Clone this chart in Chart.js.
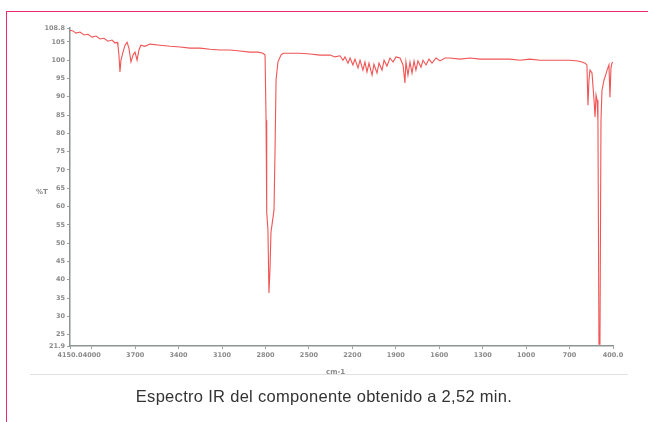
<!DOCTYPE html>
<html>
<head>
<meta charset="utf-8">
<script src="https://cdn.jsdelivr.net/npm/chart.js@4.4.1/dist/chart.umd.min.js"></script>
<style>
  html, body { margin: 0; padding: 0; background: #fff; }
  #wrap { position: relative; width: 648px; height: 422px; overflow: hidden; }
  #frame { position: absolute; left: 6px; top: 11px; width: 650px; height: 420px;
           border-top: 1.5px solid #ec2a72; border-left: 1.5px solid #ec2a72; }
  #scan { position: absolute; left: 30px; top: 22px; width: 598px; height: 352px;
          border-bottom: 1px solid #e2e2e2; }
  #chart { position: absolute; left: 0; top: 0; }
  .lbl { position: absolute; font-family: "DejaVu Sans", sans-serif; font-size: 7px;
         font-weight: bold; color: #8a8a8a; }
  #caption { position: absolute; left: 0; width: 648px; top: 387px; text-align: center;
             font-family: "Liberation Sans", Arial, sans-serif; font-size: 16.5px;
             letter-spacing: 0.3px; color: #333; }
</style>
</head>
<body>
<div id="wrap">
  <div id="frame"></div>
  <div id="scan"></div>
  <canvas id="chart" width="648" height="422"></canvas>
  <div class="lbl" style="left:36px; top:188px;">%T</div>
  <div class="lbl" style="left:326px; top:368px;">cm-1</div>
  <div id="caption">Espectro IR del componente obtenido a 2,52 min.</div>
</div>
<script>
// número de onda (cm-1)
const wavenumbers = [
  4150, 4129, 4109, 4081, 4053, 4026, 3998, 3970, 3943, 3915, 3888, 3860, 3839, 3825,
  3819, 3812, 3805, 3798, 3784, 3770, 3756, 3743, 3729, 3715, 3701, 3687, 3674, 3660,
  3632, 3598, 3528, 3459, 3390, 3321, 3252, 3183, 3114, 3045, 2976, 2907, 2852, 2817,
  2803, 2796, 2793, 2790, 2783, 2776, 2769, 2762, 2755, 2741, 2734, 2727, 2714, 2693,
  2679, 2631, 2562, 2493, 2424, 2354, 2320, 2285, 2265, 2251, 2230, 2216, 2196, 2182,
  2161, 2147, 2127, 2113, 2099, 2085, 2064, 2051, 2030, 2016, 1995, 1981, 1961, 1940,
  1919, 1899, 1871, 1850, 1837, 1830, 1816, 1802, 1788, 1774, 1761, 1747, 1726, 1712,
  1691, 1671, 1650, 1622, 1595, 1560, 1526, 1457, 1388, 1319, 1250, 1181, 1112, 1042,
  974, 904, 835, 766, 697, 642, 614, 593, 580, 573, 566, 559, 545, 531,
  524, 517, 510, 504, 497, 490, 483, 476, 462, 455, 441, 428, 421, 414,
  407, 400
];
// transmitancia (%T)
const transmittance = [
  108.2, 108.0, 107.4, 107.7, 106.9, 107.1, 106.3, 106.6, 105.8, 106.0, 105.2, 105.5, 104.7, 104.9,
  104.1, 101.4, 96.8, 100.0, 102.2, 104.1, 104.9, 103.3, 99.5, 101.4, 102.2, 100.0, 102.8, 104.1,
  103.8, 104.4, 104.1, 103.8, 103.6, 103.3, 103.3, 103.0, 102.8, 102.8, 102.5, 102.2, 102.2, 101.9,
  101.4, 83.6, 59.1, 58.5, 53.6, 36.4, 42.7, 53.0, 55.0, 59.1, 75.5, 94.6, 99.5, 101.4,
  101.9, 101.9, 101.9, 101.7, 101.4, 101.4, 100.9, 101.2, 100.0, 100.9, 99.2, 100.6, 98.7, 100.3,
  97.9, 100.0, 97.3, 99.5, 96.8, 99.2, 95.9, 98.9, 96.5, 99.2, 97.3, 100.0, 98.4, 100.6,
  99.5, 100.9, 100.6, 98.7, 93.8, 99.5, 95.9, 99.5, 96.5, 99.8, 97.3, 99.8, 98.1, 100.0,
  98.7, 100.3, 99.2, 100.6, 99.8, 100.6, 100.6, 100.3, 100.6, 100.3, 100.3, 100.3, 100.3, 100.0,
  100.3, 100.0, 100.0, 100.0, 100.0, 99.8, 99.5, 99.2, 98.7, 87.7, 94.6, 97.3, 96.5, 89.1,
  84.5, 90.5, 89.1, 83.6, 22.4, 22.4, 83.6, 91.8, 94.6, 95.4, 97.3, 98.7, 89.9, 97.9,
  99.2, 99.5
];

const xTicks = [4150, 4000, 3700, 3400, 3100, 2800, 2500, 2200, 1900, 1600, 1300, 1000, 700, 400];
const yTicks = [21.9, 25, 30, 35, 40, 45, 50, 55, 60, 65, 70, 75, 80, 85, 90, 95, 100, 105, 108.8];

const points = wavenumbers.map((w, i) => ({ x: w, y: transmittance[i] }));

const tickFont = { family: "DejaVu Sans", size: 6.5, weight: "bold" };

new Chart(document.getElementById("chart"), {
  type: "line",
  data: {
    datasets: [{
      data: points,
      borderColor: "#f05454",
      borderWidth: 1.1,
      pointRadius: 0,
      tension: 0,
      fill: false,
    }],
  },
  options: {
    responsive: false,
    animation: false,
    events: [],
    layout: { padding: { left: 30, right: 35, top: 28, bottom: 56 } },
    plugins: { legend: { display: false }, tooltip: { enabled: false } },
    scales: {
      x: {
        type: "linear",
        reverse: true,
        min: 400,
        max: 4150,
        afterBuildTicks: (axis) => { axis.ticks = xTicks.map((v) => ({ value: v })); },
        afterFit: (axis) => { axis.height = 20; },
        ticks: {
          autoSkip: false,
          maxRotation: 0,
          padding: 2,
          color: "#8a8a8a",
          font: tickFont,
          callback: (v) => (v === 4150 || v === 400 ? v.toFixed(1) : String(v)),
        },
        grid: { drawOnChartArea: false, tickLength: 3, color: "#9aa0a0" },
        border: { color: "#8c9494", width: 1.5 },
      },
      y: {
        min: 21.9,
        max: 108.8,
        afterBuildTicks: (axis) => { axis.ticks = yTicks.map((v) => ({ value: v })); },
        afterFit: (axis) => { axis.width = 40; },
        ticks: {
          autoSkip: false,
          padding: 2,
          color: "#8a8a8a",
          font: tickFont,
          callback: (v) => (v === 21.9 || v === 108.8 ? v.toFixed(1) : String(v)),
        },
        grid: { drawOnChartArea: false, tickLength: 3, color: "#9aa0a0" },
        border: { color: "#8c9494", width: 1.5 },
      },
    },
  },
});
</script>
</body>
</html>
